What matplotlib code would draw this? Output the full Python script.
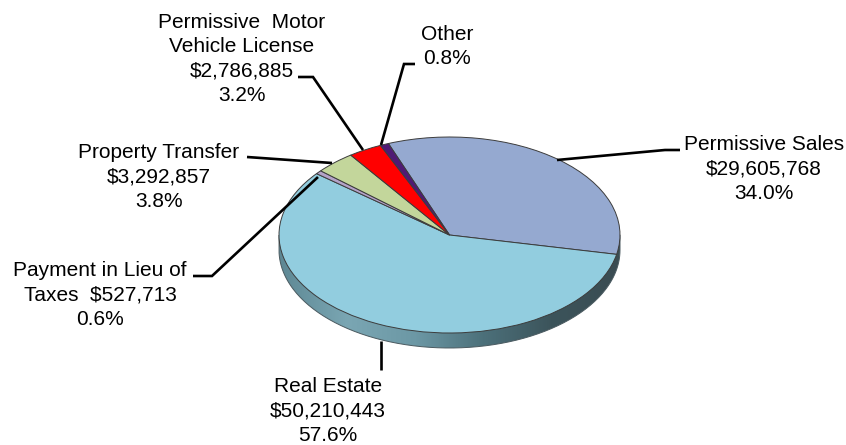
import numpy as np
import matplotlib
matplotlib.use("Agg")
import matplotlib.pyplot as plt
from matplotlib.colors import LinearSegmentedColormap
from matplotlib.path import Path
from matplotlib.patches import PathPatch

plt.rcParams['font.family'] = ['Liberation Sans', 'DejaVu Sans']

# Data
categories = ["Permissive Sales", "Real Estate", "Payment in Lieu of", "Property Transfer",
              "Permissive Motor Vehicle License", "Other"]
shares = [34.0, 57.6, 0.6, 3.8, 3.2, 0.8]
colors = ["#95A9D0", "#92CDDF", "#B3A2C7", "#C3D69B", "#FF0000", "#4F1A74"]
labels = ["Permissive Sales\n$29,605,768\n34.0%",
          "Real Estate\n$50,210,443\n57.6%",
          "Payment in Lieu of\nTaxes  $527,713\n0.6%",
          "Property Transfer\n$3,292,857\n3.8%",
          "Permissive  Motor\nVehicle License\n$2,786,885\n3.2%",
          "Other\n0.8%"]
label_pos = [(764, 169), (328, 411), (100, 295), (159, 177), (242, 59), (447, 46.5)]
leaders = [[(557, 160), (665, 150), (680, 150)],
           [(381, 341), (381, 370)],
           [(318, 177), (212, 276), (193, 276)],
           [(332, 163), (247, 157)],
           [(363, 150), (313, 77), (298, 77)],
           [(381, 145), (404, 64), (415, 64)]]
grad_stops = ["#5E8894", "#7AA6B3", "#6C98A5", "#4C707A", "#3C545B", "#3A4C52"]

W, H = 846, 445
cx, cy, rx, ry, depth = 449.5, 235, 170.5, 98, 15
start_angle = 111

fig = plt.figure(figsize=(W / 100, H / 100), dpi=100)

# Pie axes: one data unit = rx px horizontally, ry px vertically
d = depth / ry
ax = fig.add_axes([(cx - rx) / W, 1 - (cy + ry + depth + 1) / H, 2 * rx / W, (2 * ry + depth + 2) / H])
ylo, yhi = -1 - d - 1 / ry, 1 + 1 / ry

# Side wall with horizontal gradient
t = np.linspace(np.pi, 2 * np.pi, 200)
verts = np.r_[[(-1, 0)], np.c_[np.cos(t), np.sin(t) - d], [(1, 0)], [(-1, 0)]]
wall = PathPatch(Path(verts), transform=ax.transData, fc="none", ec="#4A5A60", lw=0.7, zorder=1)
ax.add_patch(wall)
cmap = LinearSegmentedColormap.from_list("side", grad_stops)
img = ax.imshow(np.linspace(0, 1, 256)[None, :], cmap=cmap, extent=(-1, 1, -1 - d, 0),
                aspect="auto", zorder=0.5)
img.set_clip_path(wall)

# Top surface
wedges, _ = ax.pie(shares, colors=colors, startangle=start_angle, counterclock=False, radius=1,
                   wedgeprops=dict(edgecolor="#3C3C3C", linewidth=0.7, zorder=2))
ax.set_aspect("auto")
ax.set_xlim(-1, 1)
ax.set_ylim(ylo, yhi)
for w in wedges:
    w.set_clip_on(False)
wall.set_clip_on(False)
ax.axis("off")

# Overlay in pixel coordinates for leaders and text
ov = fig.add_axes([0, 0, 1, 1], facecolor="none")
ov.set_xlim(0, W)
ov.set_ylim(H, 0)
ov.axis("off")
for seg in leaders:
    xs, ys = zip(*seg)
    ov.plot(xs, ys, color="black", lw=1.9, solid_capstyle="butt", solid_joinstyle="miter")
for txt, (x, y) in zip(labels, label_pos):
    ov.text(x, y, txt, ha="center", va="center", fontsize=15, color="black", linespacing=1.36)

fig.savefig("out.png", dpi=100)
